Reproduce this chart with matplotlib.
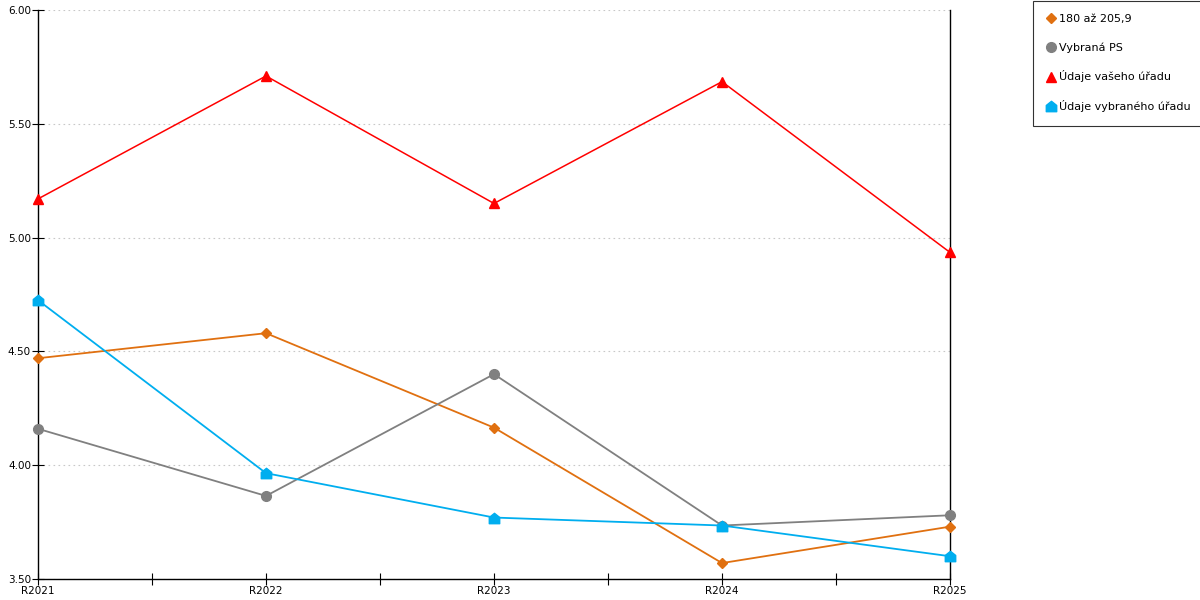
import numpy as np
import matplotlib
matplotlib.use("Agg")
import matplotlib.pyplot as plt
from matplotlib.path import Path
from matplotlib.ticker import MultipleLocator, FixedLocator

years = ["R2021", "R2022", "R2023", "R2024", "R2025"]
skupina = [4.47, 4.58, 4.165, 3.57, 3.73]      # 180 až 205,9
vybrana_ps = [4.16, 3.865, 4.40, 3.735, 3.78]
vas_urad = [5.17, 5.71, 5.15, 5.685, 4.935]
vybrany_urad = [4.725, 3.965, 3.77, 3.735, 3.60]

# house shaped marker (square with roof)
house = Path([(-1, -1), (1, -1), (1, 0.2), (0, 1), (-1, 0.2), (-1, -1)],
             [Path.MOVETO, Path.LINETO, Path.LINETO, Path.LINETO, Path.LINETO, Path.CLOSEPOLY])

plt.rcParams['font.family'] = ['DejaVu Sans']
fig = plt.figure(figsize=(12, 6), dpi=100)
ax = fig.add_axes([38/1200, 21/600, 912/1200, 569/600])

x = np.arange(len(years))
ax.plot(x, skupina, color="#e07010", lw=1.3, marker="D", ms=5.5, label="180 až 205,9", zorder=3, clip_on=False)
ax.plot(x, vybrana_ps, color="#808080", lw=1.3, marker="o", ms=7, label="Vybraná PS", zorder=3, clip_on=False)
ax.plot(x, vas_urad, color="#ff0000", lw=1.1, marker="^", ms=7.5, label="Údaje vašeho úřadu", zorder=3, clip_on=False)
ax.plot(x, vybrany_urad, color="#00aeef", lw=1.3, marker=house, ms=7.5, label="Údaje vybraného úřadu", zorder=3, clip_on=False)

ax.set_xlim(0, 4)
ax.set_ylim(3.5, 6.0)
ax.set_xticks(x)
ax.set_xticklabels(years)
ax.xaxis.set_minor_locator(FixedLocator([0.5, 1.5, 2.5, 3.5]))
ax.yaxis.set_major_locator(MultipleLocator(0.5))
ax.yaxis.set_major_formatter(matplotlib.ticker.FormatStrFormatter("%.2f"))
ax.tick_params(axis="both", which="both", direction="inout", length=8, width=0.8, labelsize=7.5, colors="black")
ax.tick_params(axis="x", pad=1)
ax.tick_params(axis="y", pad=1)
ax.grid(axis="y", color="#c8c8c8", ls=(0, (1.5, 3)), lw=0.8)
ax.spines["top"].set_visible(False)
for s in ["left", "bottom", "right"]:
    ax.spines[s].set_linewidth(1.0)
    ax.spines[s].set_color("black")

leg = fig.legend(loc="upper left", bbox_to_anchor=(1033/1200, 1 - 1/600), fontsize=8,
                 frameon=True, fancybox=False, edgecolor="black", handlelength=0.8,
                 handletextpad=0.35, labelspacing=1.6, borderpad=1.2, borderaxespad=0)
for h in leg.legend_handles:
    h.set_linestyle("None")
leg.get_frame().set_linewidth(0.8)

fig.savefig("out.png", dpi=100)
